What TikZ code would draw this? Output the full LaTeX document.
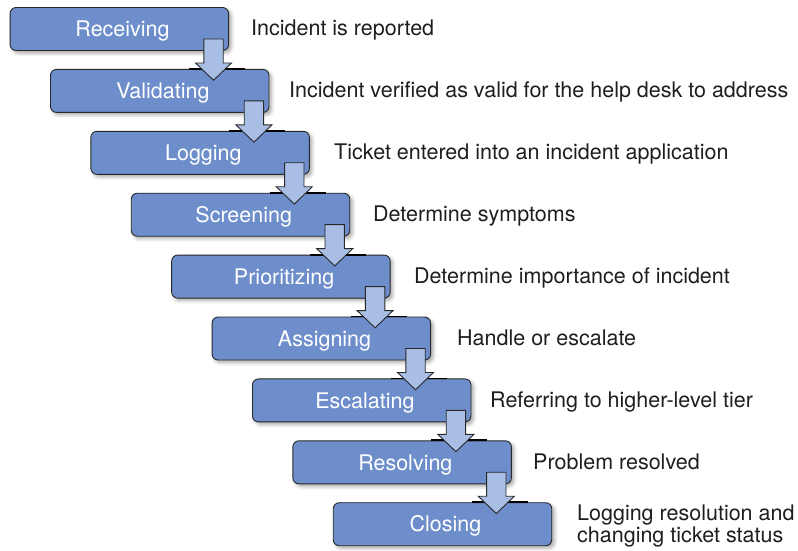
\documentclass[tikz,border=0pt]{standalone}
\usepackage{fontspec}
\setmainfont{TeX Gyre Heros}
\usetikzlibrary{calc,shadows.blur}
\definecolor{boxblue}{RGB}{109,142,203}
\definecolor{arrowblue}{RGB}{168,190,228}
\definecolor{edgegray}{RGB}{40,40,40}
\definecolor{labeltext}{RGB}{30,30,30}
\begin{document}
\begin{tikzpicture}[x=1pt,y=-1pt,
  stepbox/.style={draw=edgegray, line width=0.9pt, fill=boxblue, rounded corners=6pt,
    minimum width=218.5pt, minimum height=43pt, text=white,
    font=\fontsize{21.5}{22.5}\selectfont, inner sep=0pt, text height=15.4pt, text depth=0pt,
    blur shadow={shadow xshift=2.5pt, shadow yshift=-2.5pt, shadow blur radius=3.5pt, shadow opacity=35}},
  desc/.style={anchor=west, inner sep=0pt, text=labeltext, font=\fontsize{21.5}{22.5}\selectfont,
    text height=15.4pt, text depth=0pt},
  desc2/.style={anchor=north west, inner sep=0pt, text=labeltext, font=\fontsize{21.5}{22.5}\selectfont, align=left},
  blockarrow/.style={draw=edgegray, line width=0.9pt, fill=arrowblue, line join=miter},
  seam/.style={draw=black, line width=1.8pt}
]
\useasboundingbox (0,0) rectangle (798,550);
\foreach \lab/\desc/\dx [count=\i from 0] in {
  Receiving/{Incident is reported}/251,
  Validating/{Incident verified as valid for the help desk to address}/289,
  Logging/{Ticket entered into an incident application}/334,
  Screening/{Determine symptoms}/373,
  Prioritizing/{Determine importance of incident}/414,
  Assigning/{Handle or escalate}/457,
  Escalating/{Referring to higher-level tier}/490,
  Resolving/{Problem resolved}/533} {
  \node[stepbox] (b\i) at ({119.3+40.4*\i}, {29+61.9*\i}) {\hspace*{6.5pt}\lab};
  \node[desc] (d\i) at (\dx, {28+61.9*\i}) {\desc};
}
\node[stepbox] (b8) at ({119.3+40.4*8}, {29+61.9*8}) {\hspace*{6pt}Closing};
\node[desc2] (d8) at (577, 504.3) {Logging resolution and\\changing ticket status};
\foreach \i [evaluate=\i as \j using int(\i+1)] in {0,...,7} {
  \coordinate (c\i) at ($(b\i.south east)+(-15.5,0)$);
  \draw[seam] (c\i |- b\j.north) ++(-24.5,0) -- ++(56,0);
  \draw[blockarrow] ($(c\i)+(-9.7,-12)$) -- ++(19.4,0) -- ++(0,24) -- ++(8.3,0)
    -- ($(c\i)+(0,29.3)$) -- ($(c\i)+(-18,12)$) -- ++(8.3,0) -- cycle;
}
\end{tikzpicture}
\end{document}
